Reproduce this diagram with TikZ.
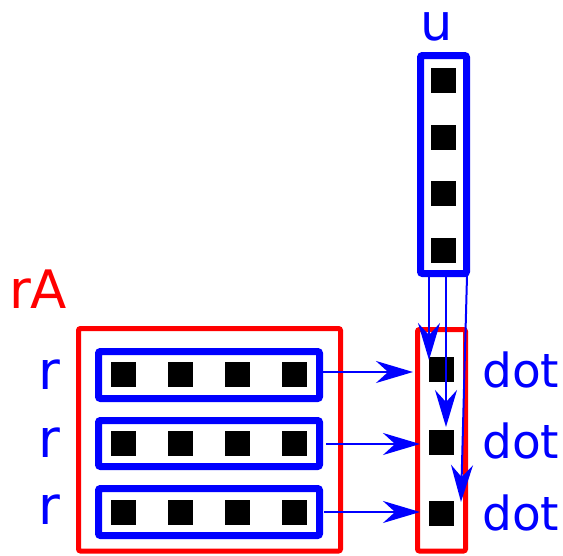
\documentclass[tikz,border=0pt]{standalone}
\usepackage{fontspec}
\setmainfont{DejaVu Sans}
\usetikzlibrary{arrows.meta}
\begin{document}
\begin{tikzpicture}[x=1pt,y=-1pt,
  cell/.style={fill=black,minimum size=25pt,inner sep=0pt,outer sep=0pt},
  bluebox/.style={draw=blue,line width=7pt,rounded corners=2pt},
  redbox/.style={draw=red,line width=5pt,rounded corners=2pt},
  lbl/.style={inner sep=0pt,anchor=base west,font=\fontsize{47}{47}\selectfont},
  big/.style={font=\fontsize{53}{53}\selectfont},
  arr/.style={draw=blue,line width=2pt,-{Stealth[length=37pt,width=22pt,inset=12pt]}}]
\useasboundingbox (0,0) rectangle (563,555);
% u vector
\draw[bluebox] (420.5,55.5) rectangle (466.5,273.5);
\foreach \i/\y in {1/80.5,2/137.5,3/193.5,4/250.5}
  \node[cell] (u\i) at (443.5,\y) {};
\node[lbl,anchor=base,text=blue,font=\fontsize{51}{51}\selectfont] (ulab) at (437,40) {u};
% rA matrix
\draw[redbox] (78.5,328.5) rectangle (340.5,551);
\node[lbl,big,text=red] (rAlab) at (9,308) {rA};
\foreach \r/\yc/\t/\b in {1/374.5/351.5/398.5,2/443.5/420.5/466.5,3/512.5/488.5/535.5}{
  \draw[bluebox] (98.5,\t) rectangle (319.5,\b);
  \foreach \c/\x in {1/123.5,2/180.5,3/237.5,4/294.5}
    \node[cell] (a\r\c) at (\x,\yc) {};
}
\node[lbl,big,text=blue] (r1) at (38,389) {r};
\node[lbl,big,text=blue] (r2) at (38,457) {r};
\node[lbl,big,text=blue] (r3) at (38,524) {r};
% dot result
\draw[redbox] (417.5,329.5) rectangle (465.5,551);
\node[cell] (d1) at (441.5,369.5) {};
\node[cell] (d2) at (441.5,442.5) {};
\node[cell] (d3) at (441.5,513.5) {};
\node[lbl,text=blue] (dot1) at (482,387) {dot};
\node[lbl,text=blue] (dot2) at (482,458) {dot};
\node[lbl,text=blue] (dot3) at (482,530) {dot};
% arrows
\coordinate (us1) at (429,276); \coordinate (ut1) at (429,360);
\coordinate (us2) at (446,276); \coordinate (ut2) at (446,427);
\coordinate (us3) at (467,276); \coordinate (ut3) at (461,502);
\draw[arr] (us1) -- (ut1);
\draw[arr] (us2) -- (ut2);
\draw[arr] (us3) -- (ut3);
\coordinate (rs1) at (322,372); \coordinate (rt1) at (413,372);
\coordinate (rs2) at (326,444); \coordinate (rt2) at (420,444);
\coordinate (rs3) at (324,512); \coordinate (rt3) at (420,512);
\draw[arr] (rs1) -- (rt1);
\draw[arr] (rs2) -- (rt2);
\draw[arr] (rs3) -- (rt3);
\end{tikzpicture}
\end{document}
